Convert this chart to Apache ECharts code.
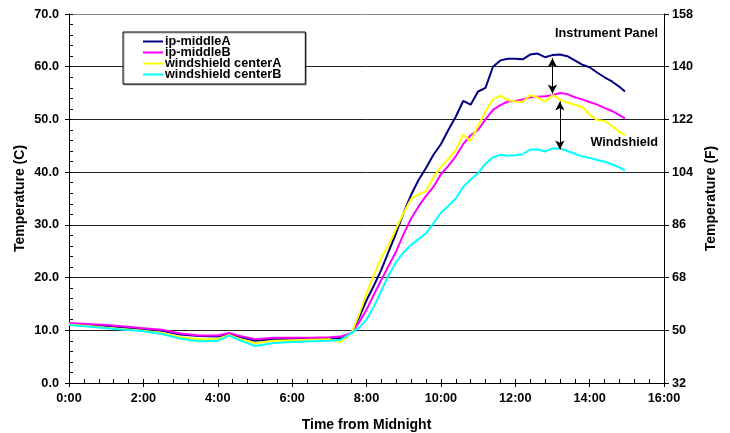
<!DOCTYPE html>
<html>
<head>
<meta charset="utf-8">
<script src="https://cdn.jsdelivr.net/npm/echarts@6/dist/echarts.min.js"></script>
<style>
  html, body { margin: 0; padding: 0; background: #fff; }
  #chart { width: 730px; height: 433px; }
</style>
</head>
<body>
<div id="chart"></div>
<script>
// Time in hours after midnight (shared by all four probes)
const hours = [
  0, 0.5, 1, 1.5, 2, 2.5, 3, 3.5, 4, 4.3, 4.6, 5, 5.5, 6, 6.5, 7, 7.3, 7.6,
  7.8, 8.0, 8.2, 8.4, 8.6, 8.8, 9.0, 9.2, 9.4, 9.6, 9.8, 10.0, 10.2, 10.4,
  10.6, 10.8, 11.0, 11.2, 11.4, 11.6, 11.8, 12.0, 12.2, 12.4, 12.6, 12.8,
  13.0, 13.2, 13.4, 13.6, 13.8, 14.0, 14.2, 14.4, 14.6, 14.8, 14.95
];

// Temperatures in degrees C
const ipMiddleA = [
  11.2, 11.0, 10.8, 10.5, 10.2, 9.9, 9.2, 8.9, 8.8, 9.3, 8.7, 8.0, 8.3, 8.4, 8.4, 8.5, 8.5, 9.5,
  12.4, 15.7, 18.5, 21.5, 25.0, 28.5, 32.3, 35.7, 38.5, 40.8, 43.3, 45.3, 48.0, 50.5,
  53.5, 52.8, 55.3, 56.0, 60.0, 61.2, 61.5, 61.5, 61.4, 62.3, 62.5, 61.8,
  62.2, 62.3, 62.0, 61.2, 60.4, 59.9, 58.9, 58.0, 57.2, 56.2, 55.3
];
const ipMiddleB = [
  11.4, 11.2, 11.0, 10.7, 10.4, 10.1, 9.4, 9.0, 9.0, 9.5, 8.9, 8.3, 8.6, 8.6, 8.6, 8.7, 8.8, 9.5,
  11.5, 13.9, 16.8, 19.6, 22.3, 25.0, 28.3, 31.2, 33.5, 35.5, 37.2, 39.6, 41.2, 43.0,
  45.3, 47.0, 48.0, 50.0, 51.8, 52.7, 53.4, 53.5, 53.8, 54.2, 54.3, 54.4,
  54.6, 55.0, 54.8, 54.2, 53.8, 53.3, 52.8, 52.2, 51.6, 50.8, 50.2
];
const windshieldCenterA = [
  11.1, 10.8, 10.5, 10.2, 9.9, 9.5, 8.7, 8.3, 8.3, 9.1, 8.3, 7.6, 8.0, 8.1, 8.2, 8.3, 7.8, 9.5,
  13.0, 17.0, 20.5, 23.8, 26.3, 29.3, 32.3, 34.9, 35.8, 36.4, 39.0, 41.0, 42.5, 44.2,
  47.1, 45.9, 48.8, 51.5, 53.8, 54.5, 53.7, 53.4, 53.3, 54.6, 54.2, 53.4,
  54.6, 53.8, 53.2, 52.8, 52.4, 50.9, 49.9, 49.7, 48.8, 47.6, 47.0
];
const windshieldCenterB = [
  11.0, 10.7, 10.4, 10.1, 9.8, 9.3, 8.4, 7.9, 8.0, 9.0, 8.1, 7.0, 7.6, 7.8, 7.9, 8.0, 8.2, 9.5,
  10.5, 12.0, 14.5, 17.5, 20.5, 23.0, 24.8, 26.2, 27.3, 28.4, 30.3, 32.3, 33.6, 35.0,
  37.2, 38.6, 39.8, 41.6, 42.8, 43.3, 43.1, 43.2, 43.4, 44.3, 44.3, 43.9,
  44.5, 44.5, 44.0, 43.5, 43.0, 42.7, 42.3, 42.0, 41.5, 40.9, 40.3
];

const seriesNames = ['ip-middleA', 'ip-middleB', 'windshield centerA', 'windshield centerB'];
const seriesValues = [ipMiddleA, ipMiddleB, windshieldCenterA, windshieldCenterB];
const seriesColors = ['#000080', '#FF00FF', '#FFFF00', '#00FFFF'];

// Double-headed arrows: [hour, top C, bottom C]
const arrows = [
  [13.0, 61.6, 54.9],
  [13.2, 53.4, 44.3]
];

const FONT = 'Arial, "Liberation Sans", sans-serif';
const labelStyle = { color: '#000', fontFamily: FONT, fontWeight: 'bold', fontSize: 12.7 };
const nameStyle = { color: '#000', fontFamily: FONT, fontWeight: 'bold', fontSize: 14 };

const chart = echarts.init(document.getElementById('chart'), null, { renderer: 'canvas' });

const series = seriesNames.map((name, i) => ({
  name,
  type: 'line',
  xAxisIndex: 0,
  yAxisIndex: 0,
  data: hours.map((h, k) => [h, seriesValues[i][k]]),
  showSymbol: false,
  symbol: 'none',
  lineStyle: { color: seriesColors[i], width: 2 },
  itemStyle: { color: seriesColors[i] },
  emphasis: { disabled: true },
  silent: true
}));

series[0].markLine = {
  silent: true,
  symbol: ['arrow', 'arrow'],
  symbolSize: [7, 9],
  label: { show: false },
  lineStyle: { color: '#000', width: 1, type: 'solid' },
  emphasis: { disabled: true },
  data: arrows.map(a => [{ coord: [a[0], a[1]] }, { coord: [a[0], a[2]] }])
};

chart.setOption({
  animation: false,
  backgroundColor: '#fff',
  grid: { left: 69, right: 66, top: 14, bottom: 50, containLabel: false, outerBoundsMode: 'none' },
  legend: {
    orient: 'vertical',
    left: 123,
    top: 32,
    padding: [3, 24, 3, 20],
    itemGap: -2,
    itemWidth: 20,
    itemHeight: 2,
    icon: 'rect',
    selectedMode: false,
    backgroundColor: '#fff',
    borderColor: '#000',
    borderWidth: 1,
    shadowColor: 'rgba(0,0,0,0.35)',
    shadowOffsetX: 1,
    shadowOffsetY: 1,
    textStyle: { color: '#000', fontFamily: FONT, fontWeight: 'bold', fontSize: 12.7, lineHeight: 10.7, padding: [0, 0, 0, -3] },
    data: seriesNames
  },
  xAxis: [
    {
      type: 'value', min: 0, max: 16, interval: 2,
      name: 'Time from Midnight', nameLocation: 'middle', nameGap: 35, nameTextStyle: nameStyle,
      nameMoveOverlap: false,
      axisLine: { show: true, onZero: false, lineStyle: { color: '#000', width: 1 } },
      axisTick: { show: true, inside: true, length: 4, lineStyle: { color: '#000' } },
      minorTick: { show: true, splitNumber: 5, length: 4, lineStyle: { color: '#000' } },
      axisLabel: Object.assign({ margin: 9, formatter: v => v + ':00' }, labelStyle),
      splitLine: { show: false }
    },
    {
      // outward half of the crossing major ticks
      type: 'value', min: 0, max: 16, interval: 2, position: 'bottom',
      axisLine: { show: false, onZero: false },
      axisTick: { show: true, inside: false, length: 4, lineStyle: { color: '#000' } },
      axisLabel: { show: false },
      splitLine: { show: false }
    }
  ],
  yAxis: [
    {
      type: 'value', min: 0, max: 70, interval: 10, position: 'left',
      name: 'Temperature (C)', nameLocation: 'middle', nameGap: 42, nameRotate: 90, nameTextStyle: nameStyle,
      nameMoveOverlap: false,
      axisLine: { show: true, onZero: false, lineStyle: { color: '#000', width: 1 } },
      axisTick: { show: true, inside: true, length: 4, lineStyle: { color: '#000' } },
      minorTick: { show: true, splitNumber: 5, length: 4, lineStyle: { color: '#000' } },
      axisLabel: Object.assign({ margin: 10, formatter: v => v.toFixed(1) }, labelStyle),
      splitLine: { show: true, lineStyle: { color: ['#222', '#222', '#222', '#222', '#222', '#222', '#222', '#888'], width: 1 } }
    },
    {
      // Fahrenheit scale drawn against the same Celsius range
      type: 'value', min: 0, max: 70, interval: 10, position: 'right',
      name: 'Temperature (F)', nameLocation: 'middle', nameGap: 40, nameRotate: 90, nameTextStyle: nameStyle,
      nameMoveOverlap: false,
      axisLine: { show: true, onZero: false, lineStyle: { color: '#000', width: 1 } },
      axisTick: { show: true, inside: false, length: 5, lineStyle: { color: '#000' } },
      axisLabel: Object.assign({ margin: 8, formatter: v => String(Math.round(v * 1.8 + 32)) }, labelStyle),
      splitLine: { show: false }
    },
    {
      type: 'value', min: 0, max: 70, interval: 10, position: 'left',
      axisLine: { show: false, onZero: false },
      axisTick: { show: true, inside: false, length: 4, lineStyle: { color: '#000' } },
      axisLabel: { show: false },
      splitLine: { show: false }
    }
  ],
  graphic: [
    {
      type: 'text', right: 72, top: 27,
      style: { text: 'Instrument Panel', fill: '#000', font: 'bold 12.7px Arial, "Liberation Sans", sans-serif' }
    },
    {
      type: 'text', right: 72, top: 136,
      style: { text: 'Windshield', fill: '#000', font: 'bold 12.7px Arial, "Liberation Sans", sans-serif' }
    }
  ],
  series
});
</script>
</body>
</html>
